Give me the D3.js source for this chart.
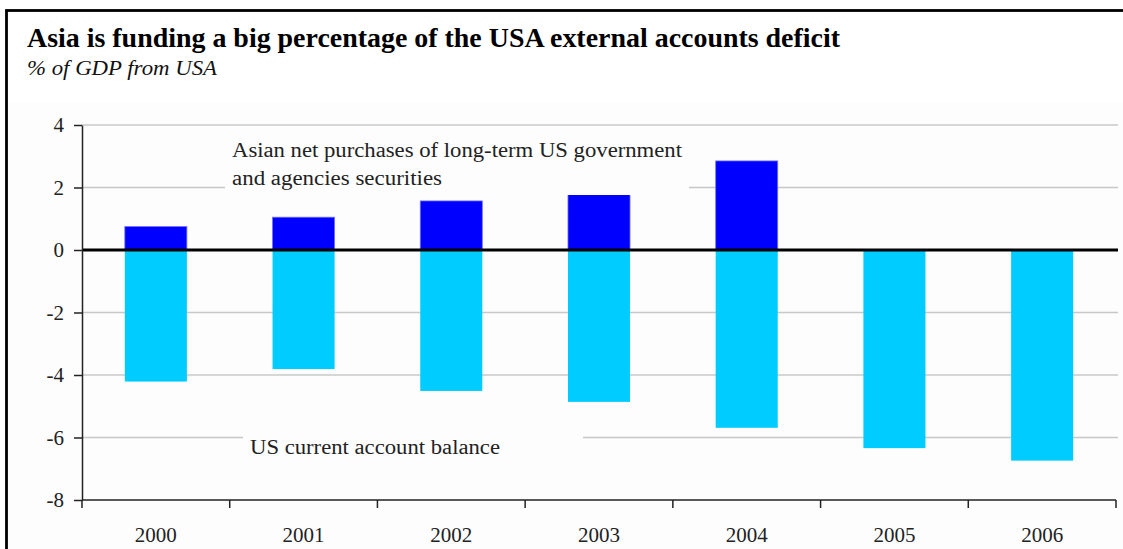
<!DOCTYPE html>
<html>
<head>
<meta charset="utf-8">
<script src="https://cdn.jsdelivr.net/npm/d3@7"></script>
<style>
  html, body { margin: 0; padding: 0; background: #fff; }
  svg { display: block; }
  text { font-family: "Liberation Serif", "Times New Roman", serif; }
</style>
</head>
<body>
<svg id="chart" width="1123" height="549"></svg>
<script>
// ---- data ----
const years = ["2000", "2001", "2002", "2003", "2004", "2005", "2006"];
const asianPurchases = [0.75, 1.05, 1.57, 1.86, 2.85, null, null];
const currentAccount = [-4.21, -3.81, -4.51, -4.86, -5.69, -6.34, -6.74];
const yTicks = [4, 2, 0, -2, -4, -6, -8];
const titleText = "Asia is funding a big percentage of the USA external accounts deficit";
const subtitleText = "% of GDP from USA";
const label1 = ["Asian net purchases of long-term US government", "and agencies securities"];
const label2 = "US current account balance";

// ---- layout ----
const W = 1123, H = 549;
const plot = { left: 82, right: 1116, top: 125, bottom: 500 };
const BG = "#fdfdfd";

const svg = d3.select("#chart");

// frame and plot background
svg.append("rect").attr("x", 7).attr("y", 103).attr("width", W).attr("height", H)
  .attr("fill", BG);
svg.append("rect").attr("x", 6.5).attr("y", 10.5).attr("width", W + 20).attr("height", H + 20)
  .attr("fill", "none").attr("stroke", "#000").attr("stroke-width", 2.8);

// title
svg.append("text").attr("x", 27).attr("y", 47)
  .attr("font-size", 27.5).attr("font-weight", "bold").attr("fill", "#000")
  .attr("textLength", 813).attr("lengthAdjust", "spacingAndGlyphs")
  .text(titleText);
svg.append("text").attr("x", 27).attr("y", 75)
  .attr("font-size", 21).attr("font-style", "italic").attr("fill", "#111")
  .attr("textLength", 190).attr("lengthAdjust", "spacingAndGlyphs")
  .text(subtitleText);

// scales
const y = d3.scaleLinear().domain([-8, 4]).range([plot.bottom, plot.top]);
const xBand = d3.scaleBand().domain(years).range([plot.left, plot.right]).padding(0);
const x = d3.scaleBand().domain(years).range([plot.left, plot.right])
  .paddingInner(0.58).paddingOuter(0.29);

// gridlines
svg.append("g").selectAll("line").data(yTicks.filter(d => d !== 0 && d !== -8)).join("line")
  .attr("x1", plot.left).attr("x2", plot.right + 2)
  .attr("y1", d => y(d)).attr("y2", d => y(d))
  .attr("stroke", "#c8c8c8").attr("stroke-width", 1.5);

// bars
svg.append("g").selectAll("rect").data(years.map((d, i) => ({ year: d, v: currentAccount[i] }))).join("rect")
  .attr("x", d => x(d.year)).attr("width", x.bandwidth())
  .attr("y", y(0)).attr("height", d => y(d.v) - y(0))
  .attr("fill", "#00ccff");
svg.append("g").selectAll("rect")
  .data(years.map((d, i) => ({ year: d, v: asianPurchases[i] })).filter(d => d.v != null)).join("rect")
  .attr("x", d => x(d.year)).attr("width", x.bandwidth())
  .attr("y", d => y(d.v)).attr("height", d => y(0) - y(d.v))
  .attr("fill", "#0000ff").attr("stroke", "#7070ff").attr("stroke-width", 0.8);

// annotation labels (with background breaking the gridlines)
function label(lines, x0, baseline0, lineH, bgX0, bgX1, bgY0, bgY1, widths) {
  svg.append("rect").attr("x", bgX0).attr("y", bgY0).attr("width", bgX1 - bgX0).attr("height", bgY1 - bgY0)
    .attr("fill", BG);
  lines.forEach((t, i) => {
    svg.append("text").attr("x", x0).attr("y", baseline0 + i * lineH)
      .attr("font-size", 20.5).attr("fill", "#222")
      .attr("textLength", widths[i]).attr("lengthAdjust", "spacingAndGlyphs")
      .text(t);
  });
}
label(label1, 232, 157, 28, 225, 689, 180, 195, [450, 210]);
label([label2], 250, 454, 0, 243, 583, 430, 445, [250]);

// zero line
svg.append("line").attr("x1", plot.left).attr("x2", plot.right + 2)
  .attr("y1", y(0)).attr("y2", y(0)).attr("stroke", "#000").attr("stroke-width", 3);

// y axis
const yAxis = svg.append("g").attr("transform", `translate(${plot.left},0)`)
  .call(d3.axisLeft(y).tickValues(yTicks).tickSize(8).tickSizeOuter(0).tickFormat(d => String(d)));
yAxis.select(".domain").attr("stroke", "#222").attr("stroke-width", 1.5);
yAxis.selectAll(".tick line").attr("stroke", "#222").attr("stroke-width", 1.5);
yAxis.selectAll(".tick text").attr("font-family", "Liberation Serif, serif")
  .attr("font-size", 21).attr("fill", "#222").attr("x", -18);

// x axis line at bottom
svg.append("line").attr("x1", plot.left).attr("x2", plot.right)
  .attr("y1", plot.bottom).attr("y2", plot.bottom).attr("stroke", "#222").attr("stroke-width", 1.5);
const boundaries = years.map(d => xBand(d)).concat([plot.right]);
svg.append("g").selectAll("line").data(boundaries).join("line")
  .attr("x1", d => d).attr("x2", d => d)
  .attr("y1", plot.bottom).attr("y2", plot.bottom + 8)
  .attr("stroke", "#222").attr("stroke-width", 1.5);
const xAxis = svg.append("g").attr("transform", `translate(0,${plot.bottom})`)
  .call(d3.axisBottom(xBand).tickSize(0));
xAxis.select(".domain").remove();
xAxis.selectAll(".tick text").attr("font-family", "Liberation Serif, serif")
  .attr("font-size", 21).attr("fill", "#222").attr("dy", 0).attr("y", 42);
</script>
</body>
</html>
